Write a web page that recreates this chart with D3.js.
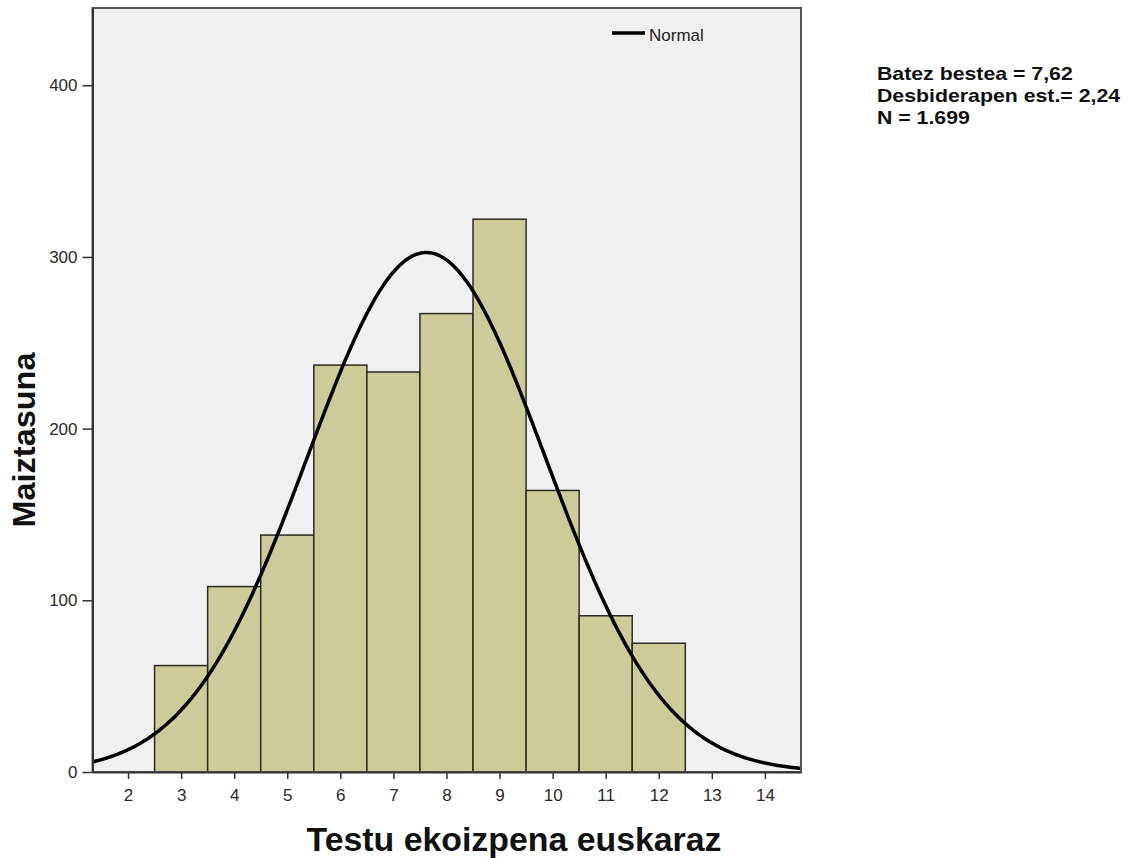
<!DOCTYPE html>
<html>
<head>
<meta charset="utf-8">
<script src="https://cdn.jsdelivr.net/npm/d3@7"></script>
<style>
  body { margin: 0; background: #fff; }
  text { font-family: "Liberation Sans", Arial, sans-serif; }
</style>
</head>
<body>
<svg id="chart"></svg>
<script>
// bin centres and counts
const binCenters = [2, 3, 4, 5, 6, 7, 8, 9, 10, 11, 12];
const binCounts  = [0, 62, 108, 138, 237, 233, 267, 322, 164, 91, 75];
const xTicks = [2, 3, 4, 5, 6, 7, 8, 9, 10, 11, 12, 13, 14];
const yTicks = [0, 100, 200, 300, 400];
const statMean = 7.62, statSd = 2.24, statN = 1699;
const statLines = ["Batez bestea = 7,62", "Desbiderapen est.= 2,24", "N = 1.699"];

const W = 1140, H = 858;
const margin = {top: 8, left: 92.5, right: 339, bottom: 86};
const innerW = W - margin.left - margin.right;
const innerH = H - margin.top - margin.bottom;

const svg = d3.select("#chart").attr("width", W).attr("height", H);
const g = svg.append("g").attr("transform", `translate(${margin.left},${margin.top})`);

const x = d3.scaleLinear().domain([1.33, 14.68]).range([0, innerW]);
const y = d3.scaleLinear().domain([0, 445]).range([innerH, 0]);

// background
g.append("rect")
  .attr("width", innerW).attr("height", innerH)
  .attr("fill", "#f0f0f0");

// bars
g.selectAll("rect.bar")
  .data(binCenters.map((c, i) => ({c: c, n: binCounts[i]})))
  .join("rect")
  .attr("class", "bar")
  .attr("x", d => x(d.c - 0.5))
  .attr("width", d => x(d.c + 0.5) - x(d.c - 0.5))
  .attr("y", d => y(d.n))
  .attr("height", d => y(0) - y(d.n))
  .attr("fill", "#cecb9b")
  .attr("stroke", "#2b2b22")
  .attr("stroke-width", 1.5);

// normal curve from the stated statistics
const curveX = d3.range(0, 401).map(i => 1.33 + (14.68 - 1.33) * i / 400);
const normal = v => statN / (statSd * Math.sqrt(2 * Math.PI)) *
  Math.exp(-0.5 * Math.pow((v - statMean) / statSd, 2));
g.append("path")
  .datum(curveX)
  .attr("fill", "none")
  .attr("stroke", "#000")
  .attr("stroke-width", 3.5)
  .attr("d", d3.line().x(d => x(d)).y(d => y(normal(d))));

// frame
g.append("rect")
  .attr("width", innerW).attr("height", innerH)
  .attr("fill", "none")
  .attr("stroke", "#555")
  .attr("stroke-width", 2);

// axes
const xAxis = g.append("g")
  .attr("transform", `translate(0,${innerH})`)
  .call(d3.axisBottom(x).tickValues(xTicks).tickSize(7).tickSizeOuter(0).tickPadding(10));
const yAxis = g.append("g")
  .call(d3.axisLeft(y).tickValues(yTicks).tickSize(10).tickSizeOuter(0).tickPadding(5));
[xAxis, yAxis].forEach(a => {
  a.select(".domain").attr("stroke", "#333").attr("stroke-width", 2);
  a.selectAll(".tick line").attr("stroke", "#333").attr("stroke-width", 1.5);
  a.selectAll(".tick text")
    .attr("font-size", "17px")
    .attr("font-family", "Liberation Sans, Arial, sans-serif")
    .attr("fill", "#2a2a2a");
});

// axis titles
svg.append("text")
  .attr("x", 514).attr("y", 851)
  .attr("text-anchor", "middle")
  .attr("font-size", "33px").attr("font-weight", "bold")
  .attr("fill", "#111")
  .attr("textLength", 415).attr("lengthAdjust", "spacingAndGlyphs")
  .text("Testu ekoizpena euskaraz");

svg.append("text")
  .attr("transform", "translate(35,440) rotate(-90)")
  .attr("text-anchor", "middle")
  .attr("font-size", "31px").attr("font-weight", "bold")
  .attr("fill", "#111")
  .attr("textLength", 175).attr("lengthAdjust", "spacingAndGlyphs")
  .text("Maiztasuna");

// legend
svg.append("line")
  .attr("x1", 612).attr("x2", 645).attr("y1", 33).attr("y2", 33)
  .attr("stroke", "#000").attr("stroke-width", 3.5);
svg.append("text")
  .attr("x", 649).attr("y", 41)
  .attr("font-size", "17px").attr("fill", "#222")
  .text("Normal");

// stats (slightly smaller font, stretched wider to match the original)
svg.selectAll("text.stat")
  .data(statLines)
  .join("text")
  .attr("class", "stat")
  .attr("x", 877)
  .attr("y", (d, i) => 80 + i * 22)
  .attr("font-size", "19px").attr("font-weight", "bold")
  .attr("fill", "#111")
  .text(d => d)
  .each(function() {
    const len = this.getComputedTextLength();
    d3.select(this).attr("textLength", len * 1.12).attr("lengthAdjust", "spacingAndGlyphs");
  });
</script>
</body>
</html>
